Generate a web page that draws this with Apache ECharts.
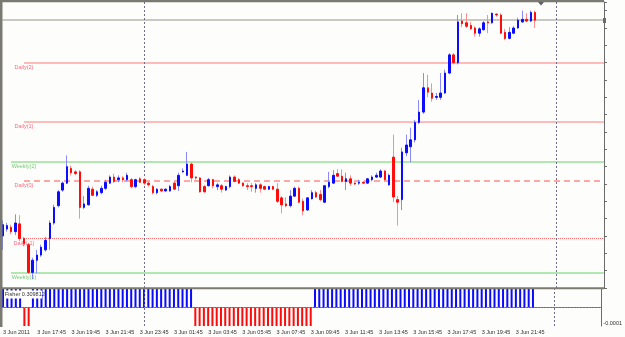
<!DOCTYPE html>
<html><head><meta charset="utf-8">
<script src="https://cdn.jsdelivr.net/npm/echarts@6/dist/echarts.min.js"></script>
<style>html,body{margin:0;padding:0;background:#fdfefb;}#c{width:625px;height:337px;}</style>
</head><body><div id="c"></div>
<script>
const tickLabels = ['3 Jun 2011','3 Jun 17:45','3 Jun 19:45','3 Jun 21:45','3 Jun 23:45','3 Jun 01:45','3 Jun 03:45','3 Jun 05:45','3 Jun 07:45','3 Jun 09:45','3 Jun 11:45','3 Jun 13:45','3 Jun 15:45','3 Jun 17:45','3 Jun 19:45','3 Jun 21:45'];
const opens = [1.4420,1.4428,1.4430,1.4425,1.4434,1.4417,1.4410,1.4378,1.4392,1.4398,1.4404,1.4417,1.4435,1.4455,1.4473,1.4481,1.4498,1.4494,1.4494,1.4453,
1.4456,1.4474,1.4467,1.4470,1.4475,1.4481,1.4488,1.4485,1.4487,1.4485,1.4485,1.4477,1.4486,1.4485,1.4481,1.4477,1.4470,1.4474,1.4472,1.4472,
1.4481,1.4478,1.4494,1.4490,1.4503,1.4488,1.4487,1.4477,1.4478,1.4485,1.4477,1.4478,1.4473,1.4477,1.4488,1.4485,1.4481,1.4478,1.4478,1.4475,
1.4479,1.4477,1.4474,1.4477,1.4474,1.4464,1.4457,1.4455,1.4466,1.4475,1.4460,1.4450,1.4463,1.4470,1.4468,1.4459,1.4477,1.4481,1.4492,1.4489,
1.4483,1.4486,1.4481,1.4481,1.4482,1.4481,1.4485,1.4488,1.4488,1.4495,1.4479,1.4511,1.4462,1.4462,1.4516,1.4523,1.4531,1.4551,1.4563,1.4591,
1.4585,1.4580,1.4580,1.4585,1.4608,1.4629,1.4620,1.4668,1.4666,1.4663,1.4660,1.4654,1.4658,1.4667,1.4666,1.4676,1.4675,1.4655,1.4648,1.4654,
1.4660,1.4667,1.4670,1.4668,1.4678];
const closes = [1.4433,1.4432,1.4425,1.4435,1.4417,1.4411,1.4378,1.4392,1.4398,1.4407,1.4415,1.4435,1.4453,1.4471,1.4481,1.4500,1.4493,1.4492,1.4453,1.4457,
1.4475,1.4467,1.4471,1.4475,1.4482,1.4488,1.4483,1.4487,1.4485,1.4490,1.4477,1.4485,1.4482,1.4481,1.4479,1.4470,1.4474,1.4472,1.4474,1.4477,
1.4474,1.4490,1.4495,1.4503,1.4487,1.4487,1.4471,1.4471,1.4485,1.4478,1.4479,1.4474,1.4477,1.4488,1.4483,1.4481,1.4478,1.4477,1.4477,1.4479,
1.4475,1.4474,1.4477,1.4474,1.4460,1.4456,1.4455,1.4466,1.4475,1.4459,1.4449,1.4464,1.4470,1.4465,1.4462,1.4478,1.4482,1.4490,1.4489,1.4483,
1.4486,1.4481,1.4480,1.4482,1.4481,1.4486,1.4488,1.4490,1.4495,1.4485,1.4490,1.4465,1.4459,1.4517,1.4525,1.4531,1.4551,1.4563,1.4591,1.4586,
1.4579,1.4581,1.4585,1.4608,1.4629,1.4620,1.4667,1.4665,1.4662,1.4659,1.4654,1.4659,1.4666,1.4666,1.4677,1.4675,1.4654,1.4648,1.4655,1.4660,
1.4669,1.4670,1.4668,1.4678,1.4669];
const highs = [1.4438,1.4435,1.4433,1.4445,1.4444,1.4419,1.4412,1.4395,1.4404,1.4410,1.4419,1.4438,1.4456,1.4473,1.4483,1.4513,1.4501,1.4496,1.4496,1.4466,
1.4478,1.4477,1.4473,1.4478,1.4485,1.4490,1.4492,1.4490,1.4489,1.4493,1.4487,1.4486,1.4488,1.4487,1.4483,1.4479,1.4475,1.4475,1.4475,1.4479,
1.4483,1.4493,1.4498,1.4517,1.4505,1.4489,1.4488,1.4479,1.4487,1.4486,1.4481,1.4480,1.4478,1.4490,1.4490,1.4487,1.4482,1.4481,1.4481,1.4481,
1.4481,1.4478,1.4478,1.4478,1.4481,1.4466,1.4465,1.4473,1.4477,1.4477,1.4463,1.4465,1.4473,1.4472,1.4473,1.4479,1.4494,1.4496,1.4497,1.4497,
1.4493,1.4490,1.4482,1.4485,1.4483,1.4487,1.4490,1.4493,1.4497,1.4496,1.4492,1.4537,1.4466,1.4522,1.4537,1.4545,1.4554,1.4577,1.4608,1.4606,
1.4596,1.4585,1.4608,1.4612,1.4631,1.4631,1.4675,1.4677,1.4677,1.4667,1.4662,1.4661,1.4668,1.4675,1.4678,1.4677,1.4677,1.4659,1.4661,1.4662,
1.4672,1.4680,1.4677,1.4680,1.4680];
const lows = [1.4404,1.4425,1.4422,1.4421,1.4414,1.4408,1.4376,1.4370,1.4377,1.4396,1.4402,1.4404,1.4433,1.4453,1.4471,1.4480,1.4490,1.4490,1.4440,1.4451,
1.4455,1.4466,1.4465,1.4468,1.4473,1.4480,1.4481,1.4482,1.4482,1.4483,1.4475,1.4475,1.4481,1.4479,1.4477,1.4468,1.4468,1.4471,1.4471,1.4471,
1.4473,1.4472,1.4493,1.4489,1.4482,1.4485,1.4470,1.4470,1.4477,1.4475,1.4473,1.4470,1.4472,1.4475,1.4482,1.4480,1.4477,1.4473,1.4471,1.4470,
1.4470,1.4473,1.4473,1.4473,1.4458,1.4446,1.4453,1.4453,1.4465,1.4458,1.4444,1.4449,1.4462,1.4464,1.4460,1.4458,1.4475,1.4480,1.4488,1.4482,
1.4473,1.4478,1.4479,1.4479,1.4480,1.4480,1.4483,1.4487,1.4487,1.4483,1.4478,1.4459,1.4432,1.4450,1.4512,1.4505,1.4528,1.4549,1.4561,1.4580,
1.4575,1.4577,1.4577,1.4584,1.4607,1.4618,1.4618,1.4661,1.4660,1.4658,1.4650,1.4650,1.4657,1.4654,1.4665,1.4673,1.4653,1.4646,1.4647,1.4653,
1.4659,1.4666,1.4667,1.4667,1.4660];
// Fisher histogram as displayed (clipped to the sub-window scale of +/-0.0001)
const fisher = [0.0001,0.0001,0.0001,0.0001,0.0001,-0.0001,-0.0001,0.0001,0.0001,0.0001,0.0001,0.0001,0.0001,0.0001,0.0001,0.0001,0.0001,0.0001,0.0001,0.0001,
0.0001,0.0001,0.0001,0.0001,0.0001,0.0001,0.0001,0.0001,0.0001,0.0001,0.0001,0.0001,0.0001,0.0001,0.0001,0.0001,0.0001,0.0001,0.0001,0.0001,
0.0001,0.0001,0.0001,0.0001,0.0001,-0.0001,-0.0001,-0.0001,-0.0001,-0.0001,-0.0001,-0.0001,-0.0001,-0.0001,-0.0001,-0.0001,-0.0001,-0.0001,-0.0001,-0.0001,
-0.0001,-0.0001,-0.0001,-0.0001,-0.0001,-0.0001,-0.0001,-0.0001,-0.0001,-0.0001,-0.0001,-0.0001,-0.0001,0.0001,0.0001,0.0001,0.0001,0.0001,0.0001,0.0001,
0.0001,0.0001,0.0001,0.0001,0.0001,0.0001,0.0001,0.0001,0.0001,0.0001,0.0001,0.0001,0.0001,0.0001,0.0001,0.0001,0.0001,0.0001,0.0001,0.0001,
0.0001,0.0001,0.0001,0.0001,0.0001,0.0001,0.0001,0.0001,0.0001,0.0001,0.0001,0.0001,0.0001,0.0001,0.0001,0.0001,0.0001,0.0001,0.0001,0.0001,
0.0001,0.0001,0.0001,0.0001,0.0001];
const fisherLabel = 'Fisher 0.309812';
const levelNames = ['Daily(2)','Daily(1)','Weekly(2)','Daily(0)','Daily(-1)','Weekly(1)'];
const levelValues = [1.4620,1.4552,1.4506,1.4484,1.4417,1.4378];
const levelStarts = [5,5,2,5,5,2];
const bidPrice = 1.4669;
const separators = [33,129];
const subAxisLabel = '-0.0001';

const SLOTS = 141;
const cats = []; for (let i = 0; i < SLOTS; i++) cats.push(String(i));
const candleData = opens.map((o,i)=>[o, closes[i], lows[i], highs[i]]);
const bodyData = opens.map((o,i)=>[o, closes[i], Math.min(o,closes[i]), Math.max(o,closes[i])]);

const levelStyle = {
  'Daily(2)': {color:'#ffa4a4', width:1.5, type:'solid', text:'#ff4060'},
  'Daily(1)': {color:'#ffa4a4', width:1.5, type:'solid', text:'#ff4060'},
  'Weekly(2)': {color:'#96e096', width:1.5, type:'solid', text:'#50c050'},
  'Daily(0)': {color:'#ff8a8a', width:1.5, type:[6,4], text:'#ff4060'},
  'Daily(-1)': {color:'#ff6a6a', width:1, type:[1,1], text:'#ff4060'},
  'Weekly(1)': {color:'#96e096', width:1.5, type:'solid', text:'#50c050'}
};
const GL = 2.5, GW = 601.44;
const F = 'Liberation Sans';

const levelLines = levelNames.map((n,i)=>[
  {coord:[levelStarts[i], levelValues[i]], lineStyle:{color:levelStyle[n].color, width:levelStyle[n].width, type:levelStyle[n].type}},
  {coord:[SLOTS-1, levelValues[i]]}
]);
levelLines.push([{coord:[0,bidPrice], lineStyle:{color:'#c9c9c2', width:2, type:'solid'}},{coord:[SLOTS-1,bidPrice]}]);
const sepLines = separators.map(s=>({xAxis:s, lineStyle:{color:'#6e6e88', width:1, type:[2,2]}}));

const chart = echarts.init(document.getElementById('c'), null, {renderer:'canvas'});
chart.setOption({
  animation:false,
  backgroundColor:'#fdfefb',
  grid:[
    {left:GL, top:2, width:GW, height:286},
    {left:GL, top:289, width:GW, height:37}
  ],
  xAxis:[
    {type:'category', gridIndex:0, data:cats, boundaryGap:false, axisLine:{show:false}, axisTick:{show:false}, axisLabel:{show:false}, splitLine:{show:false}},
    {type:'category', gridIndex:1, data:cats, boundaryGap:false, axisLine:{show:true, lineStyle:{color:'#707070', width:1}}, axisTick:{show:false},
     axisLabel:{show:true, interval:(idx)=> idx % 8 === 0 && idx/8 < tickLabels.length, formatter:(v,idx)=> tickLabels[idx/8] || '',
       align:'left', margin:3, fontSize:5.5, fontFamily:F, color:'#303030'}, splitLine:{show:false}}
  ],
  yAxis:[
    {type:'value', gridIndex:0, position:'right', min:1.4360, max:1.4690, interval:0.002,
     axisLine:{show:true, lineStyle:{color:'#6a6a6a', width:1}}, axisTick:{show:true, length:3, lineStyle:{color:'#6a6a6a'}},
     axisLabel:{show:false}, splitLine:{show:false}},
    {type:'value', gridIndex:1, position:'right', min:-0.0001, max:0.0001, interval:0.0001,
     axisLine:{show:true, lineStyle:{color:'#6a6a6a', width:1}}, axisTick:{show:false},
     axisLabel:{show:true, margin:2, fontSize:5.5, fontFamily:F, color:'#303030', verticalAlign:'bottom',
       formatter:(v)=> v < 0 ? subAxisLabel : ''}, splitLine:{show:false}}
  ],
  series:[
    {type:'candlestick', name:'wicks', xAxisIndex:0, yAxisIndex:0, data:candleData, barWidth:0.01, z:3,
     itemStyle:{color:'#8a8aff', color0:'#ff8e8e', borderColor:'#8a8aff', borderColor0:'#ff8e8e', borderColorDoji:'#8a8aff', borderWidth:1},
     markLine:{silent:true, symbol:['none','none'], label:{show:false}, animation:false, z:2, data: levelLines.concat(sepLines)}},
    {type:'candlestick', name:'bodies', xAxisIndex:0, yAxisIndex:0, data:bodyData, barWidth:2, z:4,
     itemStyle:{color:'#0c0cff', color0:'#ff0c0c', borderColor:'#0c0cff', borderColor0:'#ff0c0c', borderColorDoji:'#0c0cff', borderWidth:1}},
    {type:'scatter', name:'levels', xAxisIndex:0, yAxisIndex:0, symbolSize:0, z:5, silent:true,
     data: levelNames.map((n,i)=>({name:n, value:[5, levelValues[i]], label:{color:levelStyle[n].text}})),
     label:{show:true, position:'bottom', distance:2, formatter:(p)=>p.name, fontSize:5.5, fontFamily:F}},
    {type:'bar', name:'Fisher', xAxisIndex:1, yAxisIndex:1, data:fisher, barWidth:2, z:3,
     itemStyle:{color:(p)=> p.value >= 0 ? '#0a0aff' : '#ff0a0a'},
     markLine:{silent:true, symbol:['none','none'], label:{show:false}, animation:false,
       data:[{yAxis:0, lineStyle:{color:'#8a8a8a', width:1, type:[1,2]}}].concat(sepLines)}}
  ],
  graphic:[
    {type:'rect', shape:{x:0, y:0, width:2.5, height:327}, style:{fill:'#7a7a72'}, z:10, silent:true},
    {type:'rect', shape:{x:0, y:0, width:604, height:2.2}, style:{fill:'#7a7a72'}, z:10, silent:true},
    {type:'rect', shape:{x:0, y:287.3, width:604, height:2}, style:{fill:'#7a7a72'}, z:10, silent:true},
    {type:'polygon', shape:{points:[[538,2],[544,2],[541,5.5]]}, style:{fill:'#606060'}, z:10, silent:true},
    {type:'rect', shape:{x:603, y:18, width:3, height:5}, style:{fill:'#6a6a6a'}, z:10, silent:true},
    {type:'rect', shape:{x:4, y:290.5, width:38, height:8}, style:{fill:'#ffffff'}, z:10, silent:true},
    {type:'text', x:5, y:294.5, style:{text:fisherLabel, fontSize:5.5, fontFamily:F, fill:'#303030', verticalAlign:'middle'}, z:11, silent:true}
  ]
});
</script></body></html>
